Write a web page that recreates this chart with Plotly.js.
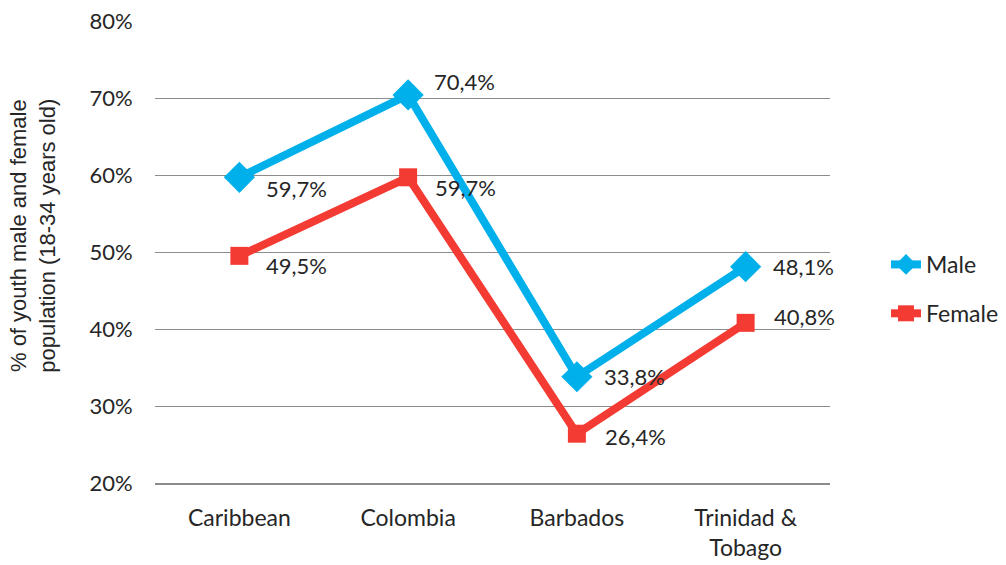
<!DOCTYPE html>
<html>
<head>
<meta charset="utf-8">
<script src="https://cdn.plot.ly/plotly-3.0.1.min.js"></script>
<style>html,body{margin:0;padding:0;background:#fff;}#chart{width:1006px;height:565px;}</style>
</head>
<body>
<div id="chart"></div>
<script>
const categories = ["Caribbean", "Colombia", "Barbados", "Trinidad &<br>Tobago"];
const maleValues = [59.7, 70.4, 33.8, 48.1];
const femaleValues = [49.5, 59.7, 26.4, 40.8];
const seriesNames = ["Male", "Female"];
const yTickValues = [20, 30, 40, 50, 60, 70, 80];
const yTitle = "% of youth male and female<br>population (18-34 years old)";

const maleColor = "#00B0EA";
const femaleColor = "#F43B33";
const fontFamily = "Lato, 'Noto Sans', sans-serif";
const titleFamily = "'Liberation Sans', Arial, sans-serif";
const textColor = "#262626";
const fs = 22;

// label offsets (px) per point, style only
const maleShift = [[25, -11], [24, 13], [25, 0], [25, 0]];
const femaleShift = [[25, -10], [25, -10], [26, -3], [26, 6]];

function fmt(v) { return v.toFixed(1).replace(".", ",") + "%"; }

const traces = [
  {
    x: categories, y: maleValues, name: seriesNames[0], type: "scatter", mode: "lines+markers",
    line: {color: maleColor, width: 8}, marker: {symbol: "diamond", size: 24, color: maleColor},
    legendgroup: "m"
  },
  {
    x: categories, y: femaleValues, name: seriesNames[1], type: "scatter", mode: "lines+markers",
    line: {color: femaleColor, width: 8}, marker: {symbol: "square", size: 18, color: femaleColor},
    legendgroup: "f"
  }
];

const annotations = [];
maleValues.forEach((v, i) => annotations.push({
  x: categories[i], y: v, text: fmt(v), showarrow: false, xanchor: "left", yanchor: "middle",
  xshift: maleShift[i][0], yshift: maleShift[i][1], font: {family: fontFamily, size: fs, color: textColor}
}));
femaleValues.forEach((v, i) => annotations.push({
  x: categories[i], y: v, text: fmt(v), showarrow: false, xanchor: "left", yanchor: "middle",
  xshift: femaleShift[i][0], yshift: femaleShift[i][1], font: {family: fontFamily, size: fs, color: textColor}
}));
annotations.push({
  xref: "paper", yref: "paper", x: -0.181, y: 0.535, xanchor: "center", yanchor: "middle",
  text: yTitle, textangle: -90, showarrow: false,
  font: {family: titleFamily, size: 22, color: textColor}
});

const layout = {
  width: 1006, height: 565,
  margin: {l: 155, r: 176, t: 21, b: 82, autoexpand: false},
  paper_bgcolor: "#fff", plot_bgcolor: "#fff",
  font: {family: fontFamily, size: fs, color: textColor},
  showlegend: true,
  legend: {
    x: 1.083, y: 0.42, xanchor: "left", yanchor: "middle",
    traceorder: "grouped", tracegroupgap: 16,
    font: {family: fontFamily, size: 23, color: textColor},
    bgcolor: "rgba(0,0,0,0)"
  },
  xaxis: {
    type: "category", range: [-0.5, 3.5], showgrid: false, zeroline: false,
    showline: true, linecolor: "#8C8C8C", linewidth: 1.5,
    ticks: "outside", ticklen: 14, tickcolor: "rgba(0,0,0,0)",
    tickfont: {family: fontFamily, size: 23, color: textColor}
  },
  yaxis: {
    range: [20, 80], tickvals: yTickValues, ticktext: yTickValues.map(v => v + "%"),
    showgrid: true, gridcolor: "#8C8C8C", gridwidth: 1, zeroline: false, showline: false,
    ticks: "outside", ticklen: 17, tickcolor: "rgba(0,0,0,0)",
    tickfont: {family: fontFamily, size: fs, color: textColor}
  },
  annotations: annotations
};

Plotly.newPlot("chart", traces, layout, {displayModeBar: false, staticPlot: true});
</script>
</body>
</html>
